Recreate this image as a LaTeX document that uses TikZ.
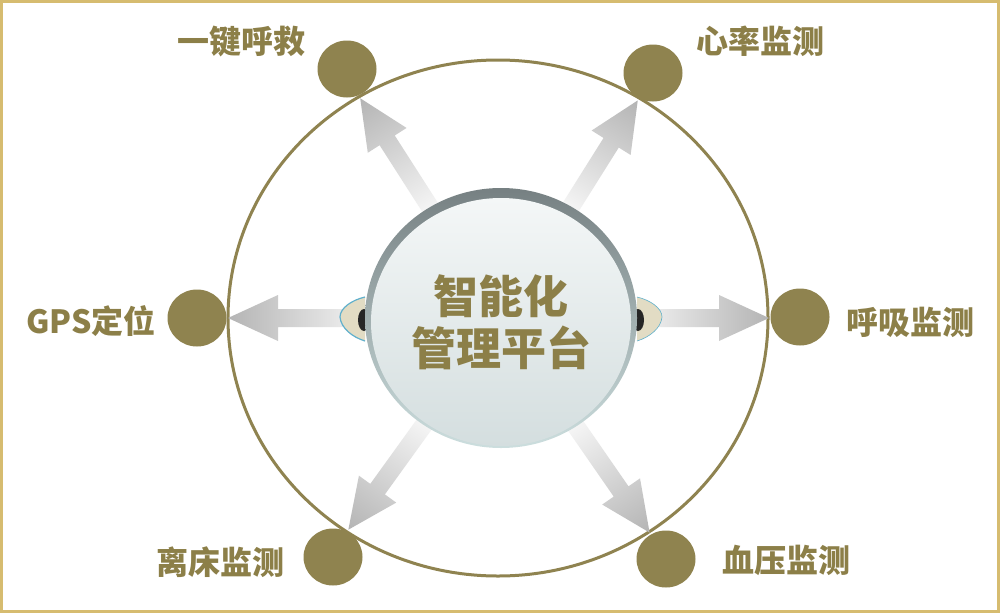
\documentclass[tikz,border=0pt]{standalone}
\usepackage{fontspec}
\newfontfamily\cjk{Noto Sans CJK SC}
\definecolor{olive}{RGB}{143,131,79}
\definecolor{txtc}{RGB}{140,127,72}
\definecolor{ringc}{RGB}{143,131,80}
\definecolor{bordc}{RGB}{214,188,112}
\definecolor{arrowgray}{RGB}{180,180,180}
\definecolor{rimtop}{RGB}{118,128,130}
\definecolor{rimmid}{RGB}{172,182,184}
\definecolor{rimbot}{RGB}{204,222,222}
\definecolor{facetop}{RGB}{244,247,247}
\definecolor{facebot}{RGB}{212,222,223}
\definecolor{earfill}{RGB}{226,220,196}
\definecolor{earline}{RGB}{96,176,204}
\tikzset{
  dot/.style={fill=olive, ellipse, minimum width=59pt, minimum height=57pt, inner sep=0pt},
  lbl/.style={text=txtc, font=\cjk\bfseries\fontsize{32}{32}\selectfont, inner sep=0pt},
  ctxt/.style={text=txtc, font=\cjk\bfseries\fontsize{45}{52}\selectfont, align=center, inner sep=0pt},
}
\usetikzlibrary{shapes.geometric}
\newcommand\fatarrow[2]{%
  \begin{scope}[transform canvas={shift={(501,318)},rotate=#1}]
    \shade[left color=white, right color=arrowgray]
      (110,-9) -- ({#2-50},-9) -- ({#2-50},-23) -- (#2,0) -- ({#2-50},23) -- ({#2-50},9) -- (110,9) -- cycle;
  \end{scope}}
\begin{document}
\begin{tikzpicture}[x=1pt,y=-1pt]
\useasboundingbox (0,0) rectangle (1000,613);
\fill[white] (0,0) rectangle (1000,613);
\draw[bordc, line width=3pt] (1.5,1.5) rectangle (998.5,611.5);
% ring
\draw[ringc, line width=3pt] (498,318) ellipse [x radius=270, y radius=258];
% arrows
\fatarrow{122.65}{261}
\fatarrow{57.85}{257}
\fatarrow{180}{273}
\fatarrow{0}{268}
\fatarrow{-125.8}{261}
\fatarrow{-55.3}{261}
% ears
\fill[earfill] (365,297) .. controls (352,300) and (340,308) .. (340,317) .. controls (341,328) and (352,337) .. (365,341) -- cycle;
\draw[earline, line width=1.2pt] (365,297) .. controls (352,300) and (340,308) .. (340,317) .. controls (341,328) and (352,337) .. (365,341);
\fill[black!85] (364,320) ellipse [x radius=6, y radius=11];
\fill[earfill] (637,297) .. controls (650,300) and (662,308) .. (662,317) .. controls (661,328) and (650,337) .. (637,341) -- cycle;
\draw[earline, line width=0.6pt] (637,297) .. controls (650,300) and (662,308) .. (662,317) .. controls (661,328) and (650,337) .. (637,341);
\fill[black!85] (638,320) ellipse [x radius=6, y radius=11];
% center disc
\shade[top color=rimtop, middle color=rimmid, bottom color=rimbot] (501,318) ellipse [x radius=136, y radius=130];
\shade[top color=facetop, bottom color=facebot] (501,322) ellipse [x radius=130, y radius=124];
\node[ctxt] (hub) at (501,322) {智能化\\管理平台};
% dots
\node[dot] (d1) at (347,69) {};
\node[dot] (d2) at (653,73) {};
\node[dot] (d3) at (197,318) {};
\node[dot] (d4) at (800,317) {};
\node[dot] (d5) at (333,557) {};
\node[dot] (d6) at (666,559) {};
% labels
\node[lbl] (l1) at (241,41) {一键呼救};
\node[lbl] (l2) at (760,41) {心率监测};
\node[lbl] (l3) at (91,321) {GPS定位};
\node[lbl] (l4) at (910,322) {呼吸监测};
\node[lbl] (l5) at (220,562) {离床监测};
\node[lbl] (l6) at (786,560) {血压监测};
\end{tikzpicture}
\end{document}
